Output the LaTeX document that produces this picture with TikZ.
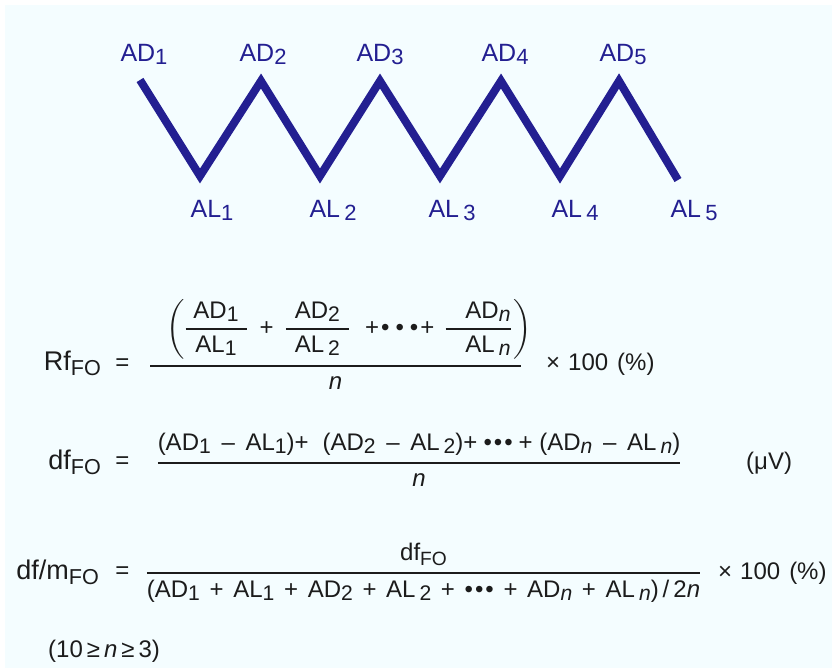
\documentclass[tikz,border=0pt]{standalone}
\usepackage{fontspec}
\setmainfont{Liberation Sans}
\usepackage{amsmath}
\usepackage{graphicx}
\usetikzlibrary{positioning}
\definecolor{zigblue}{RGB}{35,31,145}
\definecolor{paleblue}{RGB}{244,253,255}
\definecolor{eqgray}{RGB}{28,28,28}
\newcommand{\lsub}[1]{\raisebox{-0.12em}{\scalebox{0.88}{#1}}}
\newcommand{\subfo}{\raisebox{-0.22em}{\scalebox{0.8}{FO}}}
\newcommand{\bigfrac}[2]{\genfrac{}{}{2pt}{0}{#1}{#2}}
\newcommand{\smallfrac}[2]{\genfrac{}{}{1.4pt}{0}{#1}{#2}}
\newcommand{\nn}{\textit{n}}
\newcommand{\pl}{\hspace{3pt}\text{ + }\hspace{3pt}}
\newcommand{\mn}{\hspace{4pt} – \hspace{4pt}}
\newcommand{\percent}{×\hspace{8pt}100\hspace{9pt}(\%)}

\begin{document}
\begin{tikzpicture}[x=1pt, y=-1pt,
        lbl/.style={text=zigblue, inner sep=0pt, font=\fontsize{25}{30}\selectfont},
        eq/.style={text=eqgray, inner sep=0pt, anchor=base west, font=\fontsize{24}{29}\selectfont},
        lhs/.style={eq, anchor=base east, font=\fontsize{27}{32}\selectfont},
        eqsign/.style={eq, anchor=base},
        frac/.style={eq, anchor=base},
        zig/.style={draw=zigblue, line width=8pt, line join=miter}
    ]
        \fill [paleblue] (5,5) rectangle (832,668);
        \useasboundingbox (0,0) rectangle (832,668);

        % zigzag
        \coordinate (ad1) at (140,80);
        \coordinate (al1) at (200,176);
        \coordinate (ad2) at (261,81);
        \coordinate (al2) at (320,176);
        \coordinate (ad3) at (380,81);
        \coordinate (al3) at (440,176);
        \coordinate (ad4) at (501,81);
        \coordinate (al4) at (560,176);
        \coordinate (ad5) at (619,81);
        \coordinate (al5) at (678,180);
        \draw [zig] (ad1) -- (al1) -- (ad2) -- (al2) -- (ad3) -- (al3) -- (ad4) -- (al4) -- (ad5) -- (al5);

        \node [lbl, above=15pt of ad1, xshift=4pt] (adtxt1) {AD\lsub{1}};
        \node [lbl, above=16pt of ad2, xshift=2pt] (adtxt2) {AD\lsub{2}};
        \node [lbl, above=16pt of ad3] (adtxt3) {AD\lsub{3}};
        \node [lbl, above=16pt of ad4, xshift=4pt] (adtxt4) {AD\lsub{4}};
        \node [lbl, above=16pt of ad5, xshift=4pt] (adtxt5) {AD\lsub{5}};
        \node [lbl, below=24pt of al1, xshift=12pt] (altxt1) {AL\lsub{1}};
        \node [lbl, below=24pt of al2, xshift=13pt] (altxt2) {AL\,\lsub{2}};
        \node [lbl, below=24pt of al3, xshift=12pt] (altxt3) {AL\,\lsub{3}};
        \node [lbl, below=24pt of al4, xshift=15pt] (altxt4) {AL\,\lsub{4}};
        \node [lbl, below=20pt of al5, xshift=16pt] (altxt5) {AL\,\lsub{5}};

        % Rf
        \node [lhs] (rf) at (101,370) {Rf\subfo};
        \node [eqsign] (rfeq) at (122.5,370) {=};
        \node [frac] (rffrac) at (335.5,372) {$\bigfrac{\makebox[371pt][l]{\hspace{16pt}$\displaystyle\left({\smallfrac{\makebox[61pt]{AD\lsub{1}}}{\makebox[61pt]{AL\lsub{1}}}}\hspace{12pt}\text{+}\hspace{11pt}{\smallfrac{\makebox[63pt]{AD\lsub{2}}}{\makebox[63pt]{AL\,\lsub{2}}}}\hspace{15pt}\text{+\hspace{2pt}•\hspace{6pt}•\hspace{6pt}•\hspace{2pt}+}\hspace{10pt}{\smallfrac{\makebox[65pt][r]{AD\lsub{\nn}}}{\makebox[65pt][r]{AL\,\lsub{\nn}}}}\hspace{2pt}\right)$}}{\text{\nn}}$};
        \node [eq] (rfunit) at (546,370) {\percent};

        % df
        \node [lhs] (df) at (101,469) {df\subfo};
        \node [eqsign] (dfeq) at (122.5,468) {=};
        \node [frac] (dffrac) at (419,469) {$\bigfrac{\text{(AD\lsub{1}\mn AL\lsub{1})+\hspace{14pt}(AD\lsub{2}\mn AL\,\lsub{2})+\hspace{6pt}•\hspace{2pt}•\hspace{2pt}•\hspace{6pt}+ (AD\lsub{\nn}\mn AL\,\lsub{\nn})}}{\text{\nn}}$};
        \node [eq] (dfunit) at (746,469) {(μV)};

        % df/m
        \node [lhs] (dfm) at (99,579) {df/m\subfo};
        \node [eqsign] (dfmeq) at (122.5,578) {=};
        \node [frac] (dfmfrac) at (423.5,579) {$\bigfrac{\text{df\subfo}}{\text{(AD\lsub{1}}\pl\text{AL\lsub{1}}\pl\text{AD\lsub{2}}\pl\text{AL\,\lsub{2}}\pl\text{•\hspace{2pt}•\hspace{2pt}•}\pl\text{AD\lsub{\nn}}\pl\text{AL\,\lsub{\nn})\,/\,2\nn}}$};
        \node [eq] (dfmunit) at (718,579) {\percent};

        \node [eq] (range) at (48,657) {(10\,≥\,\nn\,≥\,3)};
    \end{tikzpicture}
\end{document}
